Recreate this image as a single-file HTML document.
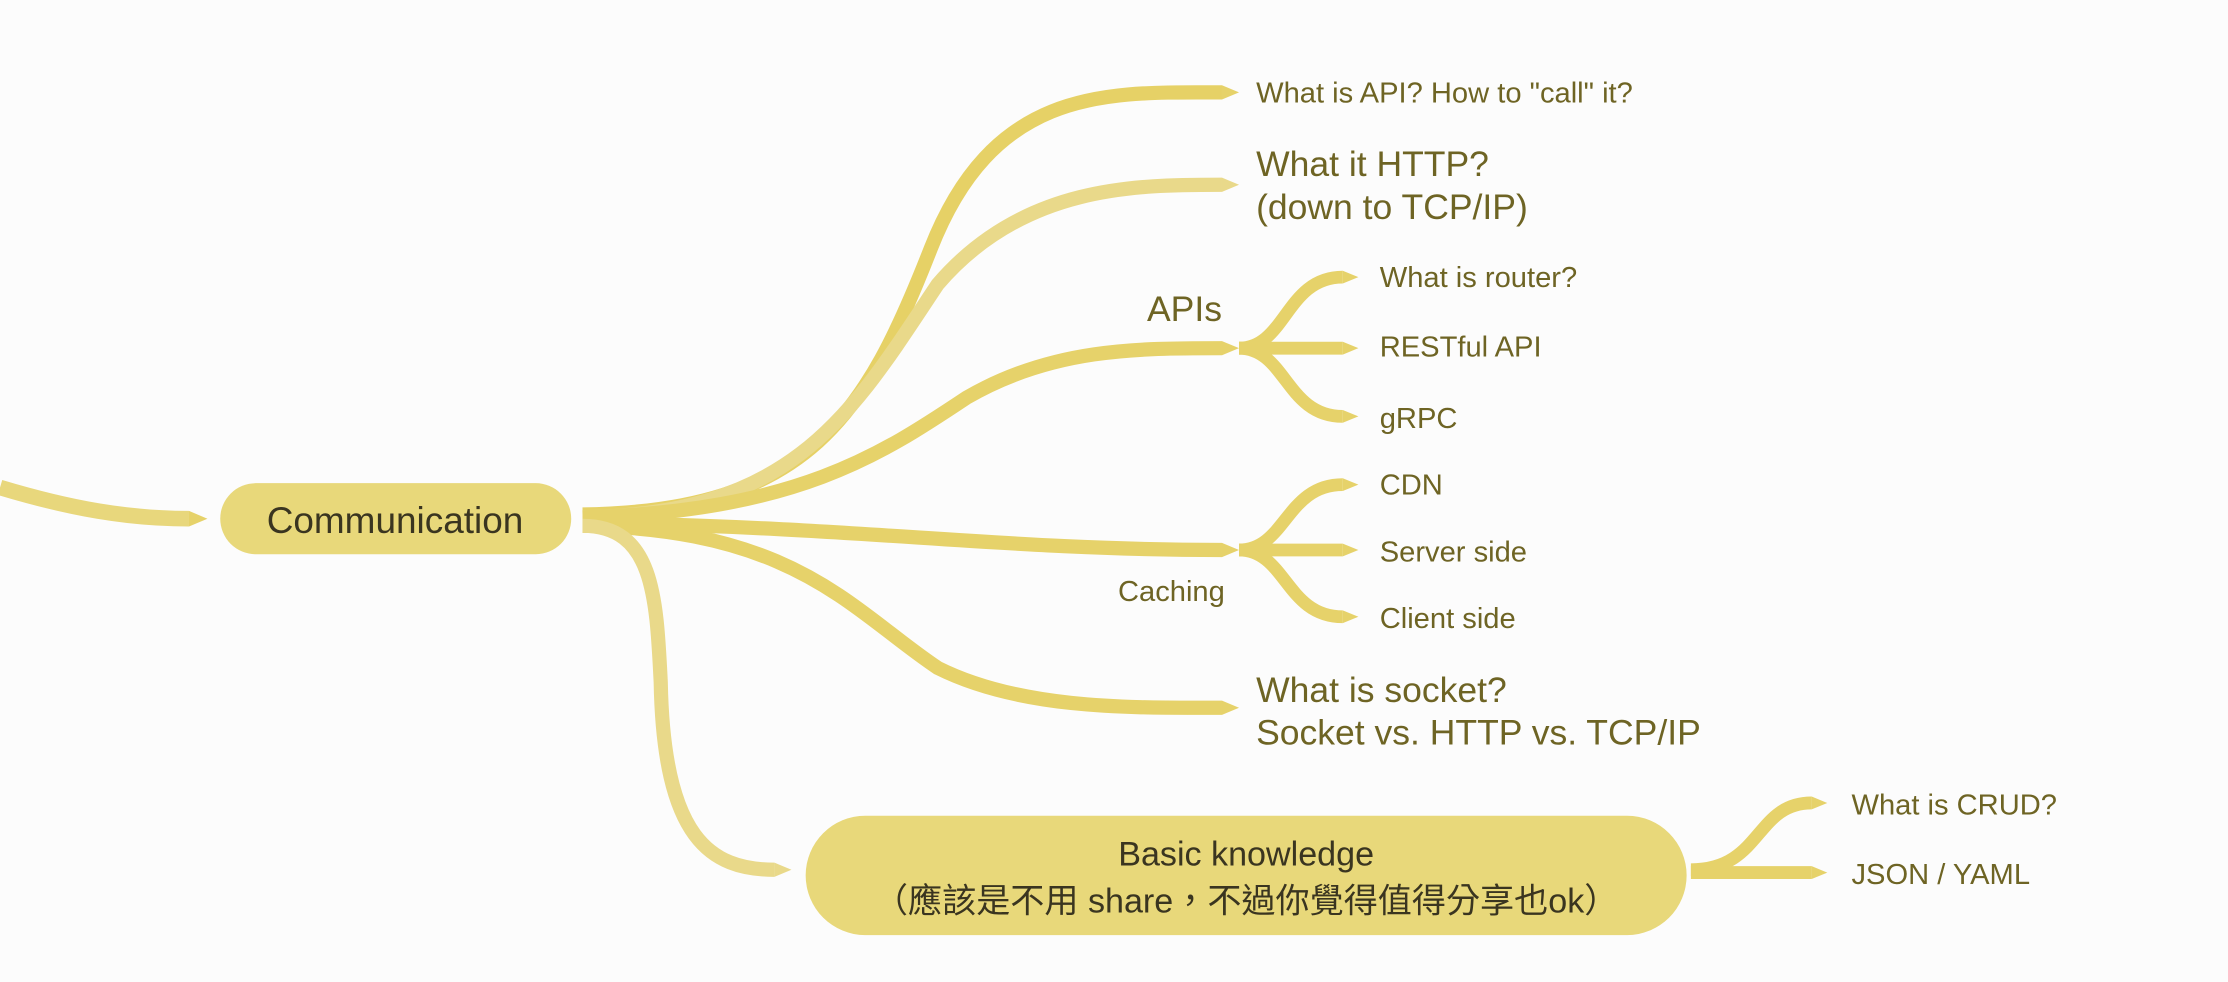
<!DOCTYPE html>
<html><head><meta charset="utf-8"><style>
html,body{margin:0;padding:0;background:#fcfcfc;}
svg{display:block}
text{font-family:"Liberation Sans","Noto Sans CJK TC",sans-serif;}
</style></head><body>
<svg width="2228" height="982" viewBox="0 0 1568 691" preserveAspectRatio="none" xmlns="http://www.w3.org/2000/svg">
<rect width="1568" height="691" fill="#fcfcfc"/>
<g fill="none" stroke-linecap="butt">
<path d="M0,343 C50,358 90,365 133,365" stroke="#e8d77c" stroke-width="11"/>
<path d="M410,362 C570,360 610,290 655,175 C700,60 780,65 860,65" stroke="#e6d166" stroke-width="10"/>
<path d="M410,364 C560,362 600,290 660,200 C720,130 800,130 860,130" stroke="#e9d98a" stroke-width="10"/>
<path d="M410,364 C560,360 620,320 680,280 C740,245 800,245 860,245" stroke="#e6d26a" stroke-width="10"/>
<path d="M410,368 C600,370 700,387 860,387" stroke="#e6d26a" stroke-width="10"/>
<path d="M410,370 C560,372 600,430 660,470 C720,500 800,498 860,498" stroke="#e6d26a" stroke-width="10"/>
<path d="M410,370 C460,370 462,420 465,480 C467,590 500,612 545,612" stroke="#e9d98a" stroke-width="10"/>
<g stroke="#e6d26a" stroke-width="9">
<path d="M872,245 C905,245 905,195 945,195"/>
<path d="M872,245 L945,245"/>
<path d="M872,245 C905,245 905,293 945,293"/>
<path d="M872,387 C905,387 905,341 945,341"/>
<path d="M872,387 L945,387"/>
<path d="M872,387 C905,387 905,434 945,434"/>
<path d="M1190,612 C1240,612 1235,565 1275,565"/>
<path d="M1190,614 L1275,614"/>
</g>
</g>
<g fill="#e6d26a">
<polygon points="133,359.5 146,365 133,370.5"/>
<polygon points="860,60 872,65 860,70"/>
<polygon points="860,125 872,130 860,135" fill="#e9d98a"/>
<polygon points="860,240 872,245 860,250"/>
<polygon points="860,382 872,387 860,392"/>
<polygon points="860,493 872,498 860,503"/>
<polygon points="545,607 557,612 545,617" fill="#e9d98a"/>
<polygon points="945,190.5 956,195 945,199.5"/>
<polygon points="945,240.5 956,245 945,249.5"/>
<polygon points="945,288.5 956,293 945,297.5"/>
<polygon points="945,336.5 956,341 945,345.5"/>
<polygon points="945,382.5 956,387 945,391.5"/>
<polygon points="945,429.5 956,434 945,438.5"/>
<polygon points="1275,560.5 1286,565 1275,569.5"/>
<polygon points="1275,609.5 1286,614 1275,618.5"/>
</g>
<rect x="155" y="340" width="247" height="50" rx="25" fill="#e8d87a"/>
<text x="278" y="375" font-size="26" text-anchor="middle" fill="#3a3520">Communication</text>
<rect x="567" y="574" width="620" height="84" rx="42" fill="#e8d87a"/>
<text x="877" y="609" font-size="24" text-anchor="middle" fill="#3a3520">Basic knowledge</text>
<text x="877" y="642" font-size="24" text-anchor="middle" fill="#3a3520">（應該是不用 share，不過你覺得值得分享也ok）</text>
<g fill="#6e6424">
<text x="884" y="72" font-size="20.5">What is API? How to "call" it?</text>
<text x="884" y="124" font-size="25">What it HTTP?</text>
<text x="884" y="154" font-size="25">(down to TCP/IP)</text>
<text x="860" y="226" font-size="25" text-anchor="end">APIs</text>
<text x="971" y="202" font-size="20.5">What is router?</text>
<text x="971" y="251" font-size="20.5">RESTful API</text>
<text x="971" y="301" font-size="20.5">gRPC</text>
<text x="971" y="348" font-size="20.5">CDN</text>
<text x="971" y="395" font-size="20.5">Server side</text>
<text x="971" y="442" font-size="20.5">Client side</text>
<text x="862" y="423" font-size="20.5" text-anchor="end">Caching</text>
<text x="884" y="494" font-size="25">What is socket?</text>
<text x="884" y="524" font-size="25">Socket vs. HTTP vs. TCP/IP</text>
<text x="1303" y="573" font-size="20.5">What is CRUD?</text>
<text x="1303" y="622" font-size="20.5">JSON / YAML</text>
</g>
</svg>
</body></html>
